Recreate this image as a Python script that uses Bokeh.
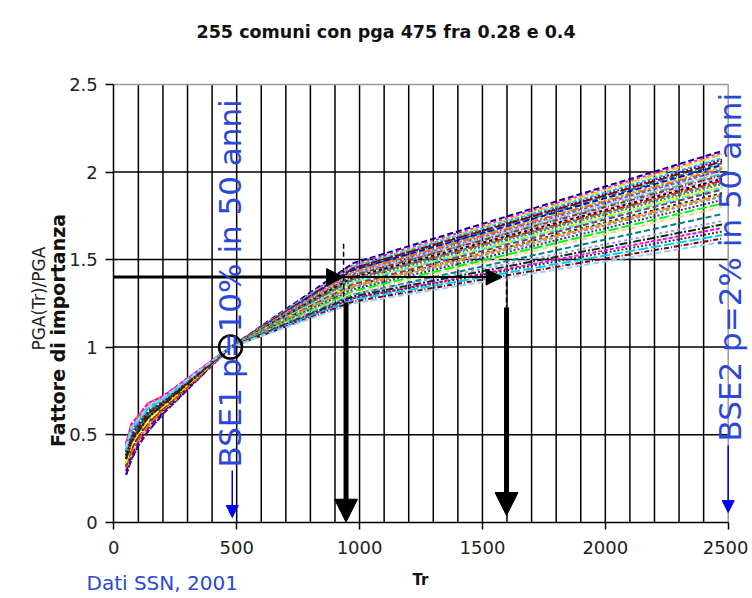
from math import pi
from bokeh.plotting import figure
from bokeh.models import Range1d, FixedTicker, Label, Arrow, NormalHead
from bokeh.embed import file_html
from bokeh.resources import INLINE

# ---------------- data ----------------
title_text = "255 comuni con pga 475 fra 0.28 e 0.4"
tr = [50, 72, 101, 140, 201, 475, 975, 2475]

curves = [
    [0.27, 0.36, 0.44, 0.52, 0.62, 1.00, 1.48, 2.12],
    [0.31, 0.40, 0.47, 0.55, 0.64, 1.00, 1.47, 2.11],
    [0.29, 0.38, 0.46, 0.54, 0.63, 1.00, 1.46, 2.10],
    [0.34, 0.44, 0.51, 0.58, 0.66, 1.00, 1.46, 2.08],
    [0.27, 0.36, 0.44, 0.52, 0.62, 1.00, 1.45, 2.07],
    [0.32, 0.42, 0.49, 0.57, 0.65, 1.00, 1.45, 2.06],
    [0.36, 0.46, 0.52, 0.60, 0.67, 1.00, 1.44, 2.05],
    [0.29, 0.38, 0.46, 0.54, 0.63, 1.00, 1.44, 2.04],
    [0.38, 0.48, 0.54, 0.62, 0.68, 1.00, 1.43, 2.03],
    [0.31, 0.40, 0.47, 0.55, 0.64, 1.00, 1.43, 2.02],
    [0.40, 0.50, 0.56, 0.63, 0.69, 1.00, 1.42, 2.01],
    [0.34, 0.44, 0.51, 0.58, 0.66, 1.00, 1.42, 2.00],
    [0.41, 0.52, 0.58, 0.65, 0.70, 1.00, 1.41, 1.99],
    [0.32, 0.42, 0.49, 0.57, 0.65, 1.00, 1.41, 1.98],
    [0.43, 0.54, 0.59, 0.66, 0.71, 1.00, 1.40, 1.97],
    [0.36, 0.46, 0.52, 0.60, 0.67, 1.00, 1.40, 1.96],
    [0.45, 0.56, 0.61, 0.68, 0.72, 1.00, 1.39, 1.95],
    [0.38, 0.48, 0.54, 0.62, 0.68, 1.00, 1.39, 1.94],
    [0.40, 0.50, 0.56, 0.63, 0.69, 1.00, 1.38, 1.93],
    [0.34, 0.44, 0.51, 0.58, 0.66, 1.00, 1.37, 1.92],
    [0.43, 0.54, 0.59, 0.66, 0.71, 1.00, 1.37, 1.91],
    [0.36, 0.46, 0.52, 0.60, 0.67, 1.00, 1.36, 1.90],
    [0.41, 0.52, 0.58, 0.65, 0.70, 1.00, 1.35, 1.88],
    [0.45, 0.56, 0.61, 0.68, 0.72, 1.00, 1.35, 1.87],
    [0.38, 0.48, 0.54, 0.62, 0.68, 1.00, 1.34, 1.86],
    [0.40, 0.50, 0.56, 0.63, 0.69, 1.00, 1.33, 1.84],
    [0.43, 0.54, 0.59, 0.66, 0.71, 1.00, 1.32, 1.82],
    [0.41, 0.52, 0.58, 0.65, 0.70, 1.00, 1.31, 1.80],
    [0.38, 0.48, 0.54, 0.62, 0.68, 1.00, 1.30, 1.76],
    [0.43, 0.54, 0.59, 0.66, 0.71, 1.00, 1.30, 1.72],
    [0.36, 0.46, 0.52, 0.60, 0.67, 1.00, 1.29, 1.70],
    [0.45, 0.56, 0.61, 0.68, 0.72, 1.00, 1.28, 1.68],
    [0.40, 0.50, 0.56, 0.63, 0.69, 1.00, 1.28, 1.66],
    [0.41, 0.52, 0.58, 0.65, 0.70, 1.00, 1.27, 1.64],
    [0.38, 0.48, 0.54, 0.62, 0.68, 1.00, 1.26, 1.62],
    [0.43, 0.54, 0.59, 0.66, 0.71, 1.00, 1.25, 1.60],
]

colors = ["#000080", "#ff00ff", "#ffcc00", "#00ccff", "#800080", "#800000",
          "#008080", "#0000ff", "#99cc00", "#ff6600", "#3366ff", "#ff99cc",
          "#33cccc", "#993300", "#cc99ff", "#000000", "#ff0000", "#339966",
          "#666699", "#ffff00", "#00ffff", "#993366", "#003366", "#ff9900",
          "#969696", "#333399", "#00ff00", "#ffcc99", "#008080", "#9999ff",
          "#003300", "#ff00ff", "#333333", "#00ccff", "#800000", "#99ccff"]
dashes = ["6 3", "3 3", "8 2 2 2", "4 2", "2 2", "10 3", "5 2 1 2"]

x_ticks = [0, 500, 1000, 1500, 2000, 2500]
y_ticks = [0, 0.5, 1, 1.5, 2, 2.5]
x_grid = [100, 200, 300, 400, 500, 600, 700, 800, 900, 1000, 1100, 1200,
          1300, 1400, 1500, 1600, 1700, 1800, 1900, 2000, 2100, 2200, 2300, 2400]
y_grid = [0.5, 1, 1.5, 2]
x_max = 2500
y_max = 2.5

ref_tr = 475          # BSE1 return period
ref_val = 1.0
target_val = 1.4      # importance factor
knee1_tr = 945
knee2_tr = 1598

# ---------------- figure ----------------
# frame covers the whole canvas; axes are pinned at 0 with fixed_location
p = figure(width=748, height=596, output_backend="svg", toolbar_location=None,
           x_range=Range1d(-461.0, 2582.6), y_range=Range1d(-0.4244, 2.9798),
           min_border=0, min_border_left=0, min_border_right=0,
           min_border_top=0, min_border_bottom=0,
           background_fill_color="white", border_fill_color="white")
p.outline_line_color = None
p.xgrid.grid_line_color = None
p.ygrid.grid_line_color = None

for ax in (p.xaxis[0], p.yaxis[0]):
    ax.fixed_location = 0
    ax.axis_line_color = "black"
    ax.axis_line_width = 1.5
    ax.major_tick_line_color = "black"
    ax.major_tick_line_width = 1.5
    ax.major_tick_in = 0
    ax.minor_tick_line_color = None
    ax.major_label_text_font = "DejaVu Sans"
    ax.major_label_text_font_size = "18px"
    ax.major_label_text_color = "#222222"
p.xaxis.bounds = (0, x_max)
p.yaxis.bounds = (0, y_max)
p.xaxis.ticker = FixedTicker(ticks=x_ticks)
p.yaxis.ticker = FixedTicker(ticks=y_ticks)
p.xaxis.major_tick_out = 7
p.yaxis.major_tick_out = 8
p.xaxis.major_label_standoff = 12
p.yaxis.major_label_standoff = 8
p.yaxis.major_label_overrides = {0: "0", 1: "1", 2: "2"}

# grid lines (every 100 in Tr, every 0.5 in factor)
p.segment(x0=x_grid, y0=[0] * len(x_grid), x1=x_grid, y1=[y_max] * len(x_grid),
          line_color="black", line_width=1.5)
p.segment(x0=[0] * len(y_grid), y0=y_grid, x1=[x_max] * len(y_grid), y1=y_grid,
          line_color="black", line_width=1.5)
# gray plot border (top and right)
p.segment(x0=[0, x_max], y0=[y_max, 0], x1=[x_max, x_max], y1=[y_max, y_max],
          line_color="#9a9a9a", line_width=1.5)

# curves
for i, c in enumerate(curves):
    p.line(tr, c, line_color=colors[i % len(colors)],
           line_dash=dashes[i % len(dashes)], line_width=2)

# circle at reference point
p.scatter([ref_tr], [ref_val], marker="circle", size=23, fill_color=None,
          line_color="black", line_width=2.5)

# horizontal arrows at target importance factor
p.add_layout(Arrow(end=NormalHead(size=17, fill_color="black", line_color="black"),
                   x_start=0, y_start=target_val, x_end=935, y_end=target_val,
                   line_color="black", line_width=3))
p.add_layout(Arrow(end=NormalHead(size=16, fill_color="black", line_color="black"),
                   x_start=935, y_start=target_val, x_end=1580, y_end=target_val,
                   line_color="black", line_width=2))

# vertical dashed + thick arrows
p.line([935, 935], [1.59, 1.255], line_color="black", line_width=1.5, line_dash="5 3")
p.line([knee2_tr, knee2_tr], [1.42, 1.226], line_color="black", line_width=1.5, line_dash="5 3")
p.add_layout(Arrow(end=NormalHead(size=23, fill_color="black", line_color="black"),
                   x_start=knee1_tr, y_start=1.255, x_end=knee1_tr, y_end=0.0,
                   line_color="black", line_width=5))
p.add_layout(Arrow(end=NormalHead(size=23, fill_color="black", line_color="black"),
                   x_start=knee2_tr, y_start=1.226, x_end=knee2_tr, y_end=0.038,
                   line_color="black", line_width=5))

# blue BSE arrows
blue = "#0000ee"
txt_blue = "#2b48d8"
p.add_layout(Arrow(end=NormalHead(size=12, fill_color=blue, line_color=blue),
                   x_start=482, y_start=0.295, x_end=482, y_end=0.027,
                   line_color=blue, line_width=1.5))
p.add_layout(Arrow(end=NormalHead(size=12, fill_color=blue, line_color=blue),
                   x_start=x_max, y_start=0.438, x_end=x_max, y_end=0.055,
                   line_color=blue, line_width=1.5))

p.add_layout(Label(x=471, y=0.312, text="BSE1 p=10% in 50 anni", angle=pi / 2,
                   text_align="left", text_baseline="middle",
                   text_font="DejaVu Sans", text_font_size="31px", text_color=txt_blue))
p.add_layout(Label(x=2507, y=0.461, text="BSE2 p=2% in 50 anni", angle=pi / 2,
                   text_align="left", text_baseline="middle",
                   text_font="DejaVu Sans", text_font_size="31px", text_color=txt_blue))

# titles / labels
p.add_layout(Label(x=1108, y=2.80, text=title_text, text_align="center",
                   text_baseline="middle", text_font="DejaVu Sans",
                   text_font_style="bold", text_font_size="17.5px", text_color="#111111"))
p.add_layout(Label(x=-225, y=1.095, text="Fattore di importanza", angle=pi / 2,
                   text_align="center", text_baseline="middle", text_font="DejaVu Sans",
                   text_font_style="bold", text_font_size="19px", text_color="#111111"))
p.add_layout(Label(x=-306, y=1.277, text="PGA(Tr)/PGA", angle=pi / 2,
                   text_align="center", text_baseline="middle", text_font="DejaVu Sans",
                   text_font_size="17px", text_color="#222222"))
p.add_layout(Label(x=1248, y=-0.333, text="Tr", text_align="center",
                   text_baseline="middle", text_font="DejaVu Sans",
                   text_font_style="bold", text_font_size="15px", text_color="#111111"))
p.add_layout(Label(x=-111, y=-0.35, text="Dati SSN, 2001", text_align="left",
                   text_baseline="middle", text_font="DejaVu Sans",
                   text_font_size="20px", text_color=txt_blue))

open("out.html", "w").write(file_html(p, INLINE))
